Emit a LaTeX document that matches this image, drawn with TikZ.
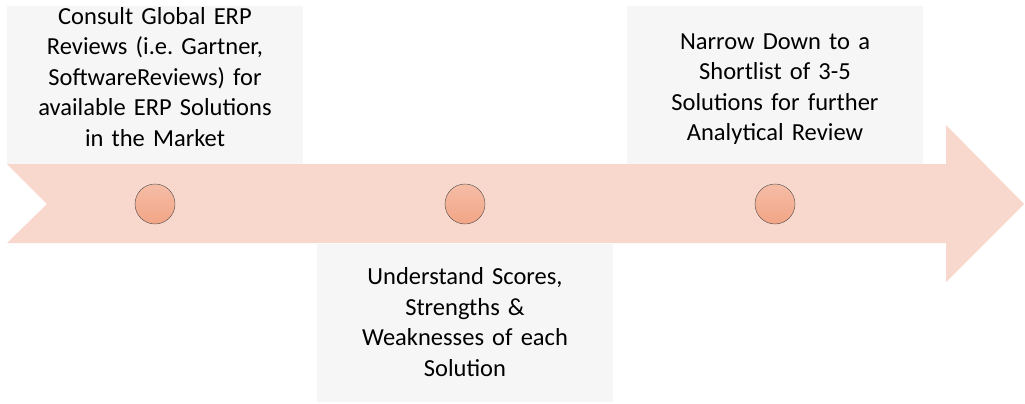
\documentclass[tikz,border=0pt]{standalone}
\usepackage{fontspec}
\setmainfont{Carlito}

\definecolor{bandpink}{HTML}{F8D7CC}
\definecolor{dottop}{HTML}{F5BDA6}
\definecolor{dotbottom}{HTML}{F2A586}
\definecolor{boxgray}{HTML}{F6F6F6}

\begin{document}
\frenchspacing
\begin{tikzpicture}[x=1pt, y=-1pt,
    box/.style={rectangle, fill=boxgray, minimum width=296pt, minimum height=158pt, inner sep=0pt},
    txt/.style={align=center, text width=292pt, inner sep=0pt, font=\fontsize{24.5}{30.5}\selectfont},
    dot/.style={circle, minimum size=40pt, inner sep=0pt, draw=black!70, line width=0.4pt, top color=dottop, bottom color=dotbottom}]
      \useasboundingbox (0,0) rectangle (1025,404);

      % the arrow band
      \fill[bandpink] (7,164) -- (946,164) -- (946,125) -- (1024,204) -- (946,282)
                      -- (946,243) -- (7,243) -- (47,204) -- cycle;

      % text boxes
      \node[box](B1) at (155.0, 85.0){};
      \node[box](B2) at (465.0,323.0){};
      \node[box](B3) at (775.0, 85.0){};

      \node[txt](T1) at (155.0, 77.0){Consult Global ERP\\Reviews (i.e. Gartner,\\SoftwareReviews) for\\available ERP Solutions\\in the Market};
      \node[txt](T2) at (465.0,322.0){Understand Scores,\\Strengths \&\\Weaknesses of each\\Solution};
      \node[txt](T3) at (775.0, 89.0){Narrow Down to a\\Shortlist of 3-5\\Solutions for further\\Analytical Review};

      % milestones
      \node[dot](C1) at (155.0,204.0){};
      \node[dot](C2) at (465.0,204.0){};
      \node[dot](C3) at (775.0,204.0){};
    \end{tikzpicture}
\end{document}
